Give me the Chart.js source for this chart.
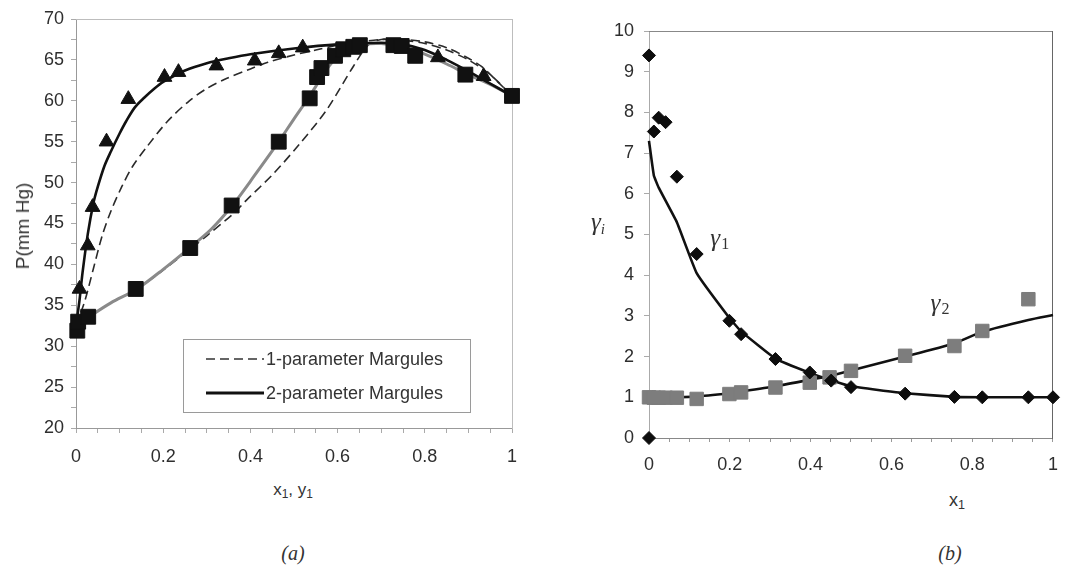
<!DOCTYPE html>
<html>
<head>
<meta charset="utf-8">
<script src="https://cdn.jsdelivr.net/npm/chart.js@4.4.1/dist/chart.umd.min.js"></script>
<style>
  body { margin: 0; background: #fff; width: 1070px; height: 568px; position: relative; overflow: hidden;
         font-family: "Liberation Sans", Arial, sans-serif; color: #333; }
  canvas { position: absolute; top: 0; }
  .lbl { position: absolute; transform: translate(-50%, -50%); white-space: nowrap; }
  .serif { font-family: "Liberation Serif", "DejaVu Serif", serif; font-style: italic; }
  sub { font-size: 70%; vertical-align: -0.25em; line-height: 0; }
  #legA { position: absolute; left: 183px; top: 339px; width: 286px; height: 72px; border: 1px solid #9a9a9a;
          font-size: 18px; color: #333; }
  #legA div { position: absolute; left: 0; width: 286px; height: 20px; line-height: 20px; white-space: nowrap; }
  #legA span { position: absolute; left: 82px; top: 0; white-space: nowrap; }
</style>
</head>
<body>
<canvas id="chartA" width="540" height="480" style="left:0"></canvas>
<canvas id="chartB" width="530" height="480" style="left:540px"></canvas>

<div id="legA">
  <div style="top:9px"><svg width="80" height="20" style="position:absolute;left:22px;top:0"><line x1="0" y1="10" x2="58" y2="10" stroke="#333" stroke-width="1.6" stroke-dasharray="9,5"/></svg><span>1-parameter Margules</span></div>
  <div style="top:43px"><svg width="80" height="20" style="position:absolute;left:22px;top:0"><line x1="0" y1="10" x2="58" y2="10" stroke="#111" stroke-width="3"/></svg><span>2-parameter Margules</span></div>
</div>

<div class="lbl" style="left:23px;top:226px;transform:translate(-50%,-50%) rotate(-90deg);font-size:19px">P(mm Hg)</div>
<div class="lbl" style="left:293px;top:490px;font-size:17px">x<sub>1</sub>, y<sub>1</sub></div>
<div class="lbl serif" style="left:293px;top:553px;font-size:20px">(a)</div>
<div class="lbl serif" style="left:598px;top:222px;font-size:25px">&gamma;<sub style="font-size:60%">i</sub></div>
<div class="lbl" style="left:957px;top:500px;font-size:18px">x<sub>1</sub></div>
<div class="lbl serif" style="left:950px;top:553px;font-size:20px">(b)</div>

<script>
// (a) P-x-y, experimental vapour (triangles) and liquid (squares)
const triY1 = [0.008, 0.027, 0.038, 0.07, 0.12, 0.203, 0.235, 0.322, 0.41, 0.465, 0.52, 0.83, 0.935];
const triP  = [37.0, 42.3, 47.0, 55.0, 60.2, 62.9, 63.5, 64.3, 64.9, 65.8, 66.5, 65.3, 63.0];
const sqX1  = [0.003, 0.005, 0.028, 0.137, 0.262, 0.357, 0.465, 0.536, 0.553, 0.563, 0.594, 0.613, 0.636, 0.651, 0.728, 0.747, 0.778, 0.893, 1.0];
const sqP   = [31.9, 33.0, 33.6, 37.0, 42.0, 47.2, 55.0, 60.3, 62.9, 64.0, 65.5, 66.3, 66.6, 66.8, 66.8, 66.7, 65.5, 63.2, 60.6];

// (a) model curves
const vap2X = [0, 0.008, 0.015, 0.027, 0.04, 0.05, 0.065, 0.08, 0.1, 0.115, 0.135, 0.157, 0.18, 0.2, 0.25, 0.3, 0.35, 0.4, 0.5, 0.6, 0.7, 0.75, 0.8, 0.85, 0.9, 0.95, 1];
const vap2P = [32.5, 35.6, 39.0, 43.7, 47.5, 49.5, 52.0, 53.8, 56.0, 57.5, 59.2, 60.4, 61.5, 62.3, 63.7, 64.6, 65.2, 65.7, 66.4, 66.9, 67.1, 66.9, 66.2, 65.0, 63.6, 62.1, 60.6];
const liq2X = [0, 0.03, 0.08, 0.14, 0.2, 0.26, 0.31, 0.36, 0.41, 0.465, 0.5, 0.535, 0.56, 0.58, 0.6, 0.63, 0.66, 0.7, 0.75, 0.8, 0.85, 0.9, 0.95, 1];
const liq2P = [32.5, 33.6, 35.3, 37.0, 39.4, 42.0, 44.3, 47.3, 50.9, 55.0, 57.8, 60.5, 62.6, 64.2, 65.4, 66.4, 66.9, 67.0, 66.6, 65.7, 64.5, 63.2, 62.0, 60.6];
const vap1X = [0, 0.02, 0.04, 0.06, 0.08, 0.105, 0.13, 0.16, 0.21, 0.26, 0.3, 0.34, 0.4, 0.44, 0.5, 0.55, 0.6, 0.65, 0.7, 0.75, 0.8, 0.85, 0.9, 0.93, 0.96, 1];
const vap1P = [32.5, 35.5, 39.5, 43.5, 46.5, 49.5, 52.0, 54.2, 57.5, 60.0, 61.5, 62.6, 63.9, 64.7, 65.6, 66.2, 66.8, 67.2, 67.5, 67.5, 67.2, 66.5, 65.2, 64.2, 62.7, 60.6];
const liq1X = [0, 0.03, 0.08, 0.14, 0.2, 0.26, 0.3, 0.363, 0.39, 0.453, 0.514, 0.575, 0.636, 0.67, 0.7, 0.75, 0.8, 0.85, 0.9, 0.95, 1];
const liq1P = [32.5, 33.6, 35.3, 37.0, 39.3, 41.8, 43.5, 46.3, 47.8, 51.1, 54.8, 58.9, 64.2, 66.8, 67.5, 67.4, 67.0, 66.2, 65.0, 63.2, 60.6];

// (b) activity coefficients
const g1X   = [0, 0, 0.012, 0.024, 0.041, 0.069, 0.118, 0.199, 0.228, 0.313, 0.398, 0.451, 0.5, 0.634, 0.756, 0.825, 0.939, 1.0];
const g1Val = [0, 9.4, 7.53, 7.87, 7.76, 6.42, 4.52, 2.88, 2.55, 1.94, 1.61, 1.41, 1.25, 1.09, 1.01, 1.0, 1.0, 1.0];
const g2X   = [0, 0.012, 0.024, 0.041, 0.069, 0.118, 0.199, 0.228, 0.313, 0.398, 0.447, 0.5, 0.634, 0.756, 0.825, 0.939];
const g2Val = [1.0, 0.99, 0.99, 0.99, 0.99, 0.96, 1.08, 1.12, 1.24, 1.36, 1.49, 1.65, 2.02, 2.26, 2.63, 3.41];
const fit1X   = [0, 0.012, 0.024, 0.069, 0.118, 0.199, 0.228, 0.313, 0.398, 0.451, 0.5, 0.634, 0.756, 0.825, 0.939, 1];
const fit1Val = [7.3, 6.45, 6.15, 5.3, 4.05, 2.95, 2.62, 1.95, 1.6, 1.42, 1.27, 1.1, 1.01, 1.0, 1.0, 1.0];
const fit2X   = [0, 0.118, 0.199, 0.228, 0.313, 0.398, 0.451, 0.5, 0.634, 0.756, 0.825, 0.939, 1];
const fit2Val = [0.98, 1.02, 1.1, 1.14, 1.27, 1.43, 1.53, 1.66, 2.0, 2.33, 2.61, 2.9, 3.02];

const gammaTags = [{x: 0.164, y: 4.88, sub: '1'}, {x: 0.709, y: 3.28, sub: '2'}];

const pts = (xs, ys) => xs.map((x, i) => ({x: x, y: ys[i]}));
const tickFont = {family: '"Liberation Sans", Arial, sans-serif', size: 18};
const tickColor = '#2e2e2e';

function frameAxis(pos, min, max, color) {
  return {
    type: 'linear', position: pos, min: min, max: max,
    ticks: {display: false},
    grid: {drawOnChartArea: false, drawTicks: false},
    border: {display: true, color: color, width: 1},
    afterFit: s => { if (pos === 'top') s.height = 0; else s.width = 0; }
  };
}

function lineSet(data, color, width, dash) {
  return {data: data, showLine: true, pointRadius: 0, borderColor: color, borderWidth: width,
          borderDash: dash || [], tension: 0.3, clip: false};
}

// panel (a)
new Chart(document.getElementById('chartA'), {
  type: 'scatter',
  data: {
    datasets: [
      {data: pts(sqX1, sqP), pointStyle: 'rect', pointRadius: 10.5, backgroundColor: '#111', borderColor: '#111', clip: false},
      {data: pts(triY1, triP), pointStyle: 'triangle', pointRadius: 8.5, backgroundColor: '#111', borderColor: '#111', clip: false},
      lineSet(pts(vap2X, vap2P), '#111', 2.6),
      lineSet(pts(liq2X, liq2P), '#8a8a8a', 3),
      lineSet(pts(vap1X, vap1P), '#2a2a2a', 1.6, [9, 5]),
      lineSet(pts(liq1X, liq1P), '#2a2a2a', 1.6, [9, 5])
    ]
  },
  options: {
    responsive: false, animation: false,
    layout: {padding: {top: 19, right: 28, left: 0, bottom: 0}},
    plugins: {legend: {display: false}, tooltip: {enabled: false}},
    scales: {
      x: {type: 'linear', min: 0, max: 1,
          ticks: {stepSize: 0.05, autoSkip: false, maxRotation: 0, padding: 13, font: tickFont, color: tickColor,
                  callback: v => (Math.round(v * 100) % 20 === 0) ? String(Math.round(v * 10) / 10) : ''},
          grid: {drawOnChartArea: false, tickLength: 5, color: '#aaa'},
          border: {color: '#999'},
          afterFit: s => { s.height = 52; }},
      y: {type: 'linear', min: 20, max: 70,
          ticks: {stepSize: 2.5, autoSkip: false, padding: 7, font: tickFont, color: tickColor,
                  callback: v => (Math.round(v * 10) % 50 === 0) ? String(v) : ''},
          grid: {drawOnChartArea: false, tickLength: 5, color: '#aaa'},
          border: {color: '#999'},
          afterFit: s => { s.width = 76; }},
      xTop: frameAxis('top', 0, 1, '#bdbdbd'),
      yRight: frameAxis('right', 20, 70, '#bdbdbd')
    }
  }
});

// labels for the gamma curves, placed through the chart's scales
const gammaPlugin = {
  id: 'gammaTags',
  afterDatasetsDraw(chart) {
    const ctx = chart.ctx, sx = chart.scales.x, sy = chart.scales.y;
    ctx.save();
    ctx.fillStyle = '#333';
    ctx.textBaseline = 'middle';
    gammaTags.forEach(t => {
      const px = sx.getPixelForValue(t.x), py = sy.getPixelForValue(t.y);
      ctx.font = 'italic 25px "Liberation Serif", "DejaVu Serif", serif';
      ctx.textAlign = 'center';
      ctx.fillText('\u03b3', px, py);
      ctx.font = '16px "Liberation Serif", "DejaVu Serif", serif';
      ctx.textAlign = 'left';
      ctx.fillText(t.sub, px + 6, py + 5);
    });
    ctx.restore();
  }
};

// panel (b)
new Chart(document.getElementById('chartB'), {
  type: 'scatter',
  data: {
    datasets: [
      {data: pts(g1X, g1Val), pointStyle: 'rectRot', pointRadius: 6.5, backgroundColor: '#0d0d0d', borderColor: '#0d0d0d', clip: false},
      {data: pts(g2X, g2Val), pointStyle: 'rect', pointRadius: 9.5, backgroundColor: '#7d7d7d', borderColor: '#7d7d7d', clip: false},
      Object.assign(lineSet(pts(fit1X, fit1Val), '#111', 2.6), {tension: 0.1}),
      Object.assign(lineSet(pts(fit2X, fit2Val), '#111', 2.6), {tension: 0.2})
    ]
  },
  options: {
    responsive: false, animation: false,
    layout: {padding: {top: 31, right: 4, left: 0, bottom: 0}},
    plugins: {legend: {display: false}, tooltip: {enabled: false}},
    scales: {
      x: {type: 'linear', min: 0, max: 1,
          ticks: {stepSize: 0.05, autoSkip: false, maxRotation: 0, padding: 12, font: tickFont, color: tickColor,
                  callback: v => (Math.round(v * 100) % 20 === 0) ? String(Math.round(v * 10) / 10) : ''},
          grid: {drawOnChartArea: false, tickLength: 4, color: '#999'},
          border: {color: '#888'},
          afterFit: s => { s.height = 42; }},
      y: {type: 'linear', min: 0, max: 10,
          ticks: {stepSize: 1, autoSkip: false, padding: 10, font: tickFont, color: tickColor},
          grid: {drawOnChartArea: false, tickLength: 5, color: '#aaa'},
          border: {color: '#aaa'},
          afterFit: s => { s.width = 109; }},
      xTop: frameAxis('top', 0, 1, '#888'),
      yRight: frameAxis('right', 0, 10, '#666')
    }
  },
  plugins: [gammaPlugin]
});
</script>
</body>
</html>
